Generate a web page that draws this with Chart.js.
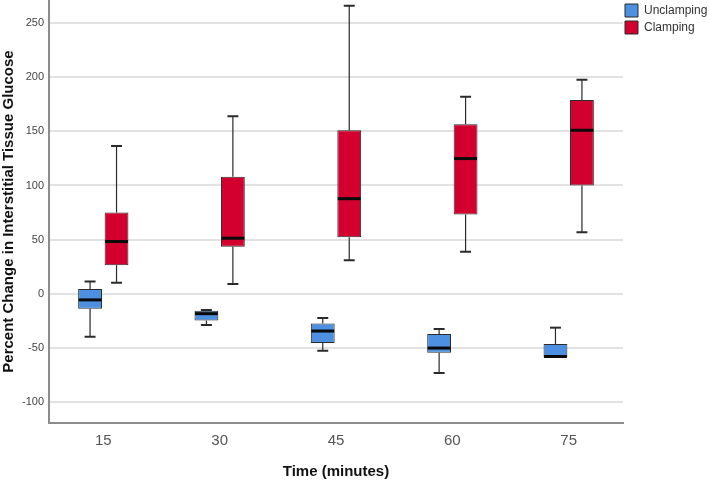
<!DOCTYPE html>
<html><head><meta charset="utf-8">
<script src="https://cdn.jsdelivr.net/npm/chart.js@4"></script>
<style>html,body{margin:0;padding:0;background:#fff}</style>
</head><body>
<canvas id="c" width="709" height="481" style="display:block;width:709px;height:481px"></canvas>
<script>
const times = [15, 30, 45, 60, 75];
const tickLabels = ['15', '30', '45', '60', '75'];
const seriesNames = ['Unclamping', 'Clamping'];
const yTicks = [-100, -50, 0, 50, 100, 150, 200, 250];

const unclampMin    = [-39.5, -28.7, -52.4, -73.0, -58.6];
const unclampQ1     = [-13.6, -24.4, -45.3, -54.3, -58.6];
const unclampMedian = [-5.5, -18.2, -34.2, -49.9, -57.7];
const unclampQ3     = [4.6, -15.6, -27.2, -37.0, -46.2];
const unclampMax    = [11.4, -14.8, -22.2, -32.3, -31.1];

const clampMin    = [10.2, 9.2, 31.1, 38.8, 56.9];
const clampQ1     = [26.4, 43.4, 52.3, 73.3, 100.0];
const clampMedian = [48.3, 51.4, 87.8, 124.8, 150.9];
const clampQ3     = [75.1, 108.1, 150.9, 156.5, 178.9];
const clampMax    = [136.4, 163.9, 265.8, 181.7, 197.4];

const boxStats = [
  {min: unclampMin, q1: unclampQ1, med: unclampMedian, q3: unclampQ3, max: unclampMax},
  {min: clampMin, q1: clampQ1, med: clampMedian, q3: clampQ3, max: clampMax}
];
const fills = ['#4d8fe1', '#d3002f'];

Chart.defaults.font.family = "'Liberation Sans', Arial, sans-serif";

const whiskerPlugin = {
  id: 'whiskers',
  afterDatasetsDraw(chart) {
    const ctx = chart.ctx, ys = chart.scales.y;
    boxStats.forEach((st, di) => {
      const meta = chart.getDatasetMeta(di);
      meta.data.forEach((bar, i) => {
        const x = bar.x, w = bar.width;
        const pMin = ys.getPixelForValue(st.min[i]);
        const pQ1 = ys.getPixelForValue(st.q1[i]);
        const pMed = ys.getPixelForValue(st.med[i]);
        const pQ3 = ys.getPixelForValue(st.q3[i]);
        const pMax = ys.getPixelForValue(st.max[i]);
        ctx.save();
        ctx.strokeStyle = '#2a2a2a';
        ctx.lineWidth = 1.2;
        ctx.beginPath();
        if (pQ3 - pMax > 0.5) { ctx.moveTo(x, pQ3); ctx.lineTo(x, pMax); }
        if (pMin - pQ1 > 0.5) { ctx.moveTo(x, pQ1); ctx.lineTo(x, pMin); }
        ctx.stroke();
        ctx.lineWidth = 2;
        const cw = w * 0.23;
        ctx.beginPath();
        if (pQ3 - pMax > 0.5) { ctx.moveTo(x - cw, pMax); ctx.lineTo(x + cw, pMax); }
        if (pMin - pQ1 > 0.5) { ctx.moveTo(x - cw, pMin); ctx.lineTo(x + cw, pMin); }
        ctx.stroke();
        ctx.strokeStyle = '#0a0a0a';
        ctx.lineWidth = 3;
        ctx.beginPath();
        ctx.moveTo(x - w / 2 + 0.5, pMed); ctx.lineTo(x + w / 2 - 0.5, pMed);
        ctx.stroke();
        ctx.restore();
      });
    });
  }
};

const legendFit = {
  id: 'legendFit',
  beforeLayout(chart) {
    const lg = chart.legend;
    if (lg && !lg._patched) {
      const f = lg.fit;
      lg.fit = function () { f.call(this); this.width = 86; };
      lg._patched = true;
    }
  },
  afterLayout(chart) {
    const lg = chart.legend;
    if (lg) { lg.left -= 2; lg.right -= 2; }
  }
};

const noPad = s => { s.paddingTop = 0; s.paddingBottom = 0; s.paddingLeft = 0; s.paddingRight = 0; };

const mkData = (q1, q3) => times.map((t, i) => ({x: t, y: [q1[i], q3[i]]}));

new Chart(document.getElementById('c'), {
  type: 'bar',
  data: {
    datasets: [
      {label: seriesNames[0], data: mkData(unclampQ1, unclampQ3), backgroundColor: fills[0],
       borderColor: '#2b2b2b', borderWidth: 1, borderSkipped: false,
       categoryPercentage: 0.455, barPercentage: 0.9},
      {label: seriesNames[1], data: mkData(clampQ1, clampQ3), backgroundColor: fills[1],
       borderColor: '#2b2b2b', borderWidth: 1, borderSkipped: false,
       categoryPercentage: 0.455, barPercentage: 0.9}
    ]
  },
  options: {
    responsive: false,
    animation: false,
    layout: {padding: 0},
    plugins: {
      legend: {
        position: 'right', align: 'start',
        labels: {boxWidth: 13, boxHeight: 13, padding: 4, color: '#333', font: {size: 12}}
      },
      tooltip: {enabled: false}
    },
    scales: {
      x: {
        type: 'linear', min: 8, max: 82, bounds: 'data', offset: false,
        afterBuildTicks: s => { s.ticks = times.map(v => ({value: v})); },
        grid: {display: false, drawTicks: false},
        border: {display: true, color: '#8c8c8c', width: 2},
        ticks: {callback: v => tickLabels[times.indexOf(v)], padding: 9, color: '#555', font: {size: 15}, maxRotation: 0},
        title: {display: true, text: 'Time (minutes)', font: {size: 15, weight: 'bold'}, color: '#111', padding: {top: 0, bottom: 0}},
        afterFit: s => { s.height = 58; noPad(s); }
      },
      y: {
        min: -119, max: 271, bounds: 'data',
        afterBuildTicks: s => { s.ticks = yTicks.map(v => ({value: v})); },
        grid: {color: '#e2e2e2', lineWidth: 2, drawTicks: false},
        border: {display: true, color: '#8c8c8c', width: 2},
        ticks: {padding: 5, color: '#444', font: {size: 11}},
        title: {display: true, text: 'Percent Change in Interstitial Tissue Glucose', font: {size: 15, weight: 'bold'}, color: '#111', padding: {top: 0, bottom: 0}},
        afterFit: s => { s.width = 49; noPad(s); }
      }
    }
  },
  plugins: [whiskerPlugin, legendFit]
});
</script>
</body></html>
